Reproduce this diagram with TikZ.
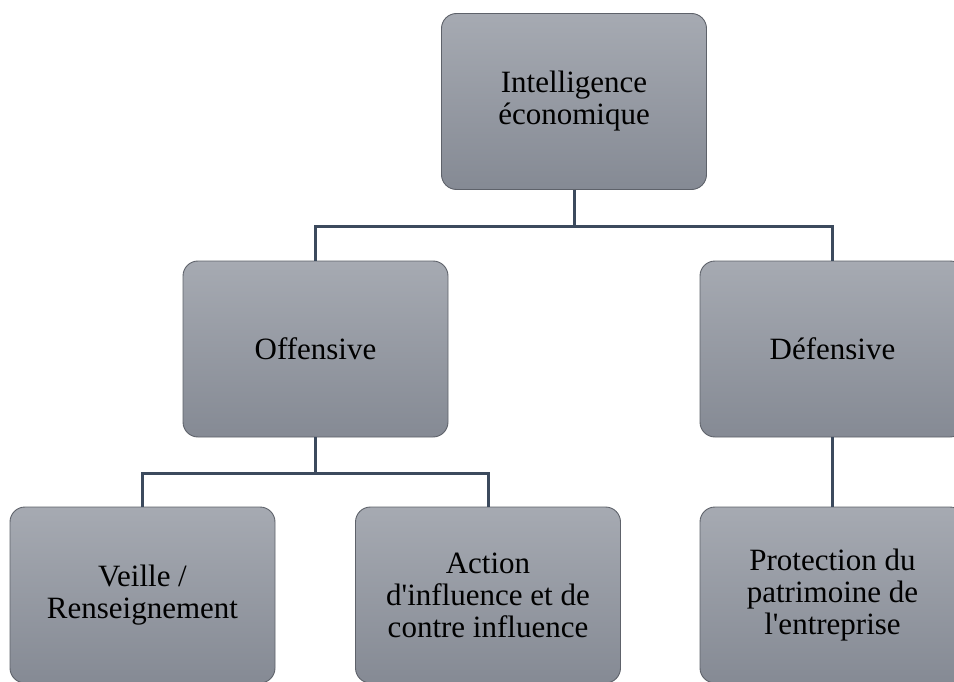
\documentclass[tikz,border=0pt]{standalone}
\usepackage{fontspec}
\setmainfont{Liberation Serif}[Ligatures=TeXOff]
\definecolor{boxtop}{HTML}{A6AAB2}
\definecolor{boxbot}{HTML}{858A94}
\definecolor{boxline}{HTML}{5E626A}
\definecolor{conn}{HTML}{3C4A5D}
\begin{document}
\begin{tikzpicture}[x=1pt,y=-1pt,
  orgbox/.style={draw=boxline, line width=0.9pt, rounded corners=15pt,
    top color=boxtop, bottom color=boxbot,
    minimum width=265pt, minimum height=176pt, inner sep=0pt,
    align=center,
    font=\fontsize{31}{32}\selectfont, text=black},
  conline/.style={draw=conn, line width=3pt}]
\useasboundingbox (0,0) rectangle (954,682);
\clip (0,0) rectangle (954,682);
\node[orgbox] (top) at (574,101.5) {Intelligence\\économique};
\node[orgbox] (off) at (315.5,349) {Offensive};
\node[orgbox] (def) at (832.5,349) {Défensive};
\node[orgbox] (vei) at (142.5,595) {Veille /\\Renseignement};
\node[orgbox] (act) at (488,595) {Action\\d'influence et de\\contre influence};
\node[orgbox] (pro) at (832.5,595) {Protection du\\patrimoine de\\l'entreprise};
\draw[conline] (top.south) -- ++(0,37) -| (off.north);
\draw[conline] (top.south) -- ++(0,37) -| (def.north);
\draw[conline] (off.south) -- ++(0,36) -| (vei.north);
\draw[conline] (off.south) -- ++(0,36) -| (act.north);
\draw[conline] (def.south) -- (pro.north);
\end{tikzpicture}
\end{document}
